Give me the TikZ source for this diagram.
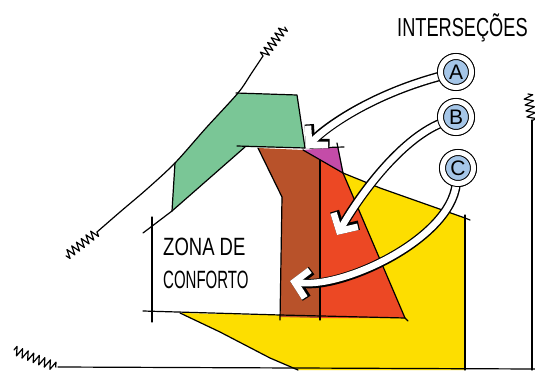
\documentclass[tikz,border=0pt]{standalone}
\usepackage{fontspec}
\setmainfont{Liberation Sans}
\usetikzlibrary{arrows.meta,decorations.pathmorphing}
\definecolor{mint}{RGB}{122,198,150}
\definecolor{brownz}{RGB}{184,82,42}
\definecolor{redz}{RGB}{236,72,36}
\definecolor{purz}{RGB}{196,76,168}
\definecolor{yelz}{RGB}{253,222,0}
\definecolor{bluez}{RGB}{165,198,232}
\begin{document}
\begin{tikzpicture}[x=1pt,y=-1pt,
  edge/.style={black, line width=1.2pt, line join=round, line cap=round},
  wig/.style={edge, decorate, decoration={zigzag, segment length=6pt, amplitude=4.5pt}},
  arrout/.style={black, line width=9.4pt, -{Straight Barb[length=13pt,width=28pt]}},
  arrin/.style={white, line width=6.6pt, -{Straight Barb[length=13pt,width=28pt]}},
  letter/.style={circle, draw=black, line width=1pt, double=white, double distance=5pt,
    fill=bluez, minimum size=31pt, inner sep=0pt, font=\fontsize{21}{21}\selectfont}]
\useasboundingbox (0,0) rectangle (535,374);
\fill[white] (0,0) rectangle (535,374);

% fills
\fill[yelz] (180,313) -- (405,318) -- (343,173) -- (380,188) -- (465,218) -- (465,370)
  -- (298,370) -- (270,358) -- (220,332) -- cycle;
\fill[mint] (238,93) -- (297,95) -- (305,148) -- (245,147) -- (172,211) -- (175,163) -- cycle;
\fill[brownz] (258,148) -- (303,150) -- (320,160) -- (320,318) -- (280,317) -- (282,197) -- cycle;
\fill[redz] (320,160) -- (343,173) -- (405,318) -- (320,318) -- cycle;
\fill[purz] (303,150) -- (338,147) -- (343,173) -- cycle;

% saturation curve and wiggles
\draw[edge] plot[smooth] coordinates {(263,56) (251,74) (238,93) (206,128) (175,163) (147,189) (120,212) (97,232)};
\draw[wig] (263,56) -- (285,27);
\draw[wig] (97,232) -- (66,256);

% green outline and lower line
\draw[edge] (236,93) -- (297,95) -- (305,148);
\draw[edge] (237,146) -- (305,148);
\draw[edge] (245,147) -- (172,211) -- (143,233);
\draw[edge] (175,163) -- (172,211);

% comfort zone frame
\draw[edge] (152,217) -- (152,322);
\draw[edge] (143,311) -- (280,315) -- (405,318);

% brown / red / purple
\draw[edge] (258,148) -- (282,197) -- (280,320);
\draw[edge] (320,160) -- (320,320);
\draw[edge] (303,150) -- (343,173) -- (380,188) -- (465,218) -- (470,220);
\draw[edge] (343,173) -- (405,318) -- (408,321);
\draw[edge] (310,148) -- (344,147);
\draw[edge] (337,143) -- (343,173);

% yellow edges
\draw[edge] (465,215) -- (465,370);
\draw[edge] (180,313) -- (220,332) -- (270,358) -- (298,370);

% frame lines
\draw[edge] (58,367) -- (535,369);
\draw[wig] (14,350) -- (56,367);
\draw[edge] (532,120) -- (532,370);
\draw[wig] (528,94) -- (532,121);

% labels
\node[anchor=base west, inner sep=0pt] (title) at (397,37)
  {\fontsize{26}{26}\selectfont\scalebox{0.7}[1]{INTERSEÇÕES}};
\node[anchor=north west, inner sep=0pt, align=left, font=\fontsize{25}{27}\selectfont] (zona) at (163,238)
  {\scalebox{0.74}[1]{ZONA DE}\\[6pt]\scalebox{0.6}[1]{CONFORTO}};

% circle nodes
\coordinate (tipA) at (306,148);
\coordinate (tipB) at (337,235);
\coordinate (tipC) at (290,281);
\node[letter] (A) at (456,72) {A};
\node[letter] (B) at (456,117) {B};
\node[letter] (C) at (458,168) {C};

% arrows
\draw[arrout] (A) .. controls (370,95) and (325,128) .. (tipA);
\draw[arrin]  (A) .. controls (370,95) and (325,128) .. (tipA);
\draw[arrout] (B) .. controls (400,140) and (360,195) .. (tipB);
\draw[arrin]  (B) .. controls (400,140) and (360,195) .. (tipB);
\draw[arrout] (C) .. controls (450,240) and (340,290) .. (tipC);
\draw[arrin]  (C) .. controls (450,240) and (340,290) .. (tipC);

% redraw circles on top
\node[letter] at (A) {A};
\node[letter] at (B) {B};
\node[letter] at (C) {C};
\end{tikzpicture}
\end{document}
